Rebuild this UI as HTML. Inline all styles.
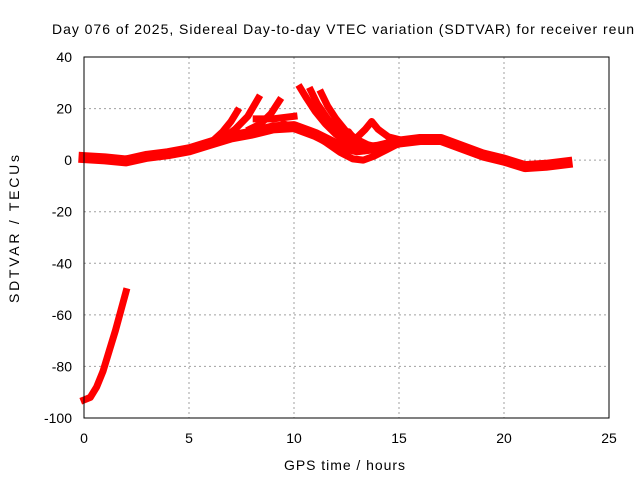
<!DOCTYPE html>
<html><head><meta charset="utf-8"><style>
body{margin:0;background:#fff}
svg{display:block;font-family:"Liberation Sans",sans-serif}
</style></head><body>
<svg id="chart" width="640" height="480">
<rect width="640" height="480" fill="#fff"/>
<text x="52" y="34" font-size="14" textLength="582" lengthAdjust="spacing">Day 076 of 2025, Sidereal Day-to-day VTEC variation (SDTVAR) for receiver reun</text>
<g id="grid"></g>
<g id="series"></g>
<rect x="84" y="57" width="525" height="361" fill="none" stroke="#000" stroke-width="1"/>
<g id="ticks" font-size="14"></g>
<text x="284" y="470" font-size="14" textLength="121" lengthAdjust="spacing">GPS time / hours</text>
<text transform="translate(19,303) rotate(-90)" font-size="14" textLength="148" lengthAdjust="spacing">SDTVAR / TECUs</text>
</svg>
<script>
const xTicks=[0,5,10,15,20,25];
const yTicks=[40,20,0,-20,-40,-60,-80,-100];
const mainBand=[[0,1],[1,0.5],[2,-0.3],[3,1.5],[4,2.5],[5,4],[6,6.5],[7,9],[8,10.5],[9,12.5],[10,13],[11,10],[12,6],[13,4],[14,5],[15,7],[16,8],[17,8],[18,5],[19,2],[20,0],[21,-2.5],[22,-2],[23,-1]];
const branch1=[[6.2,8],[6.6,11],[7,15],[7.3,19]];
const branch2=[[6.7,9],[7.2,12],[7.8,17],[8.3,24]];
const branch3=[[7.9,12],[8.4,14],[8.9,18],[9.3,23]];
const branch4=[[8.2,16],[9,16],[10,17]];
const arc1=[[10.3,28],[10.6,24],[11,19],[11.5,14],[12,10],[12.5,7],[12.8,5]];
const arc2=[[10.8,27],[11.1,22],[11.6,16],[12.1,11],[12.7,7],[13.3,4]];
const arc3=[[11.3,26],[11.6,21],[12,16],[12.5,11],[13,8],[13.5,6],[14,5]];
const lowTrack=[[9.5,14],[10.5,12],[11.5,7],[12.2,3],[12.8,0.5],[13.3,0],[13.8,1.5],[14.4,4],[15,6.5]];
const bump=[[12.4,5],[12.9,8],[13.4,12],[13.7,15],[14,12],[14.5,9],[15,8]];
const spike=[[12,6],[12.6,11],[13,7]];
const lowLine=[[0,-93],[0.3,-92],[0.6,-88],[0.9,-82],[1.2,-74],[1.5,-66],[1.8,-57],[2,-51]];
const X=h=>84+h*21, Y=v=>57+(40-v)*361/140;
const NS="http://www.w3.org/2000/svg";
const grid=document.getElementById('grid'),ticks=document.getElementById('ticks'),ser=document.getElementById('series');
xTicks.forEach(t=>{
 if(t>0&&t<25){const l=document.createElementNS(NS,'line');
 l.setAttribute('x1',X(t));l.setAttribute('x2',X(t));l.setAttribute('y1',57);l.setAttribute('y2',418);
 l.setAttribute('stroke','#a0a0a0');l.setAttribute('stroke-dasharray','2,3');
 
 
 grid.appendChild(l);}
 const tx=document.createElementNS(NS,'text');tx.setAttribute('x',X(t));tx.setAttribute('y',443);tx.setAttribute('text-anchor','middle');tx.textContent=t;
 
 
 ticks.appendChild(tx);
});
yTicks.forEach(t=>{
 if(t<40&&t>-100){const l=document.createElementNS(NS,'line');
 l.setAttribute('x1',84);l.setAttribute('x2',609);l.setAttribute('y1',Y(t));l.setAttribute('y2',Y(t));
 l.setAttribute('stroke','#a0a0a0');l.setAttribute('stroke-dasharray','2,3');
 
 
 grid.appendChild(l);}
 const tx=document.createElementNS(NS,'text');tx.setAttribute('x',72);tx.setAttribute('y',Y(t)+5);tx.setAttribute('text-anchor','end');tx.textContent=t;
 
 
 ticks.appendChild(tx);
});
function draw(pts,w,name){
 const p=document.createElementNS(NS,'polyline');
 p.setAttribute('points',pts.map(d=>X(d[0])+','+Y(d[1])).join(' '));
 p.setAttribute('fill','none');p.setAttribute('stroke','#f00');p.setAttribute('stroke-width',w);
 p.setAttribute('stroke-linejoin','round');p.setAttribute('stroke-linecap','square');
 
 
 ser.appendChild(p);
}
draw(mainBand,11,'main-band');
[branch1,branch2,branch3,branch4,arc1,arc2,arc3,lowTrack,bump,spike].forEach((b,i)=>draw(b,7,'branch-'+i));
draw(lowLine,7,'low-line');
</script>
</body></html>
